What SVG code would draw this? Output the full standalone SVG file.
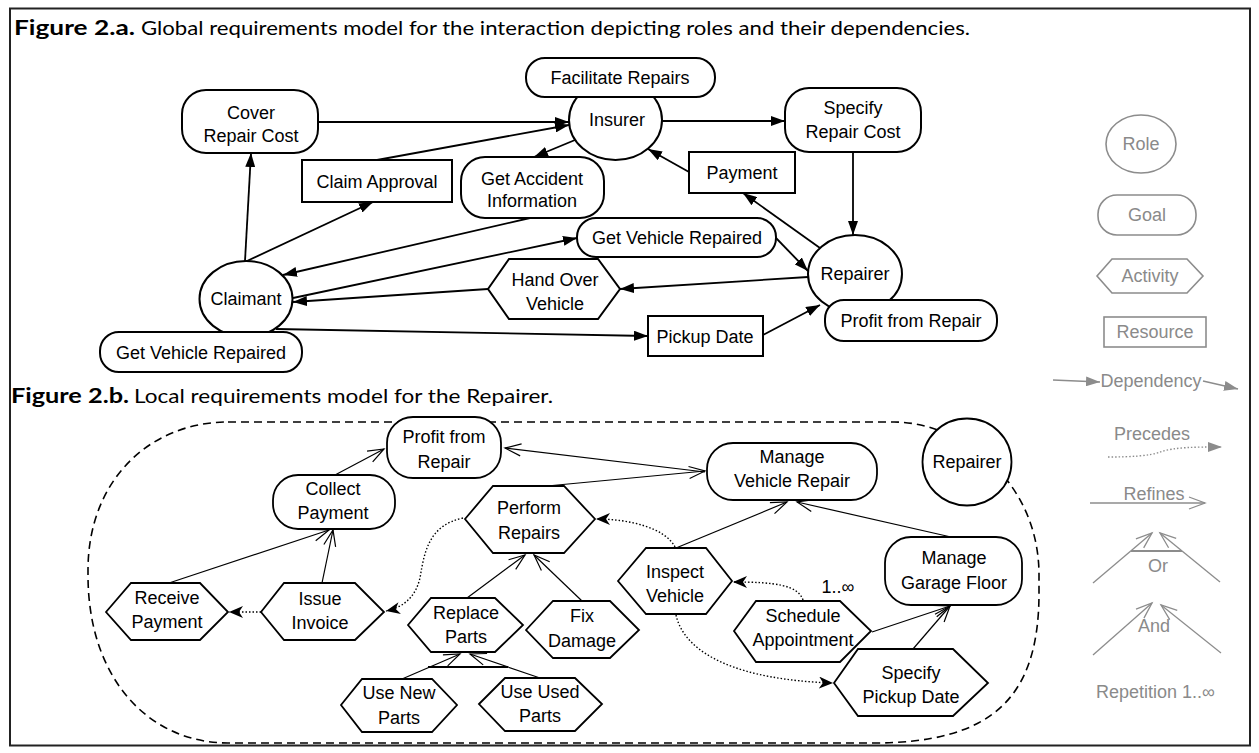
<svg xmlns="http://www.w3.org/2000/svg" width="1259" height="753" viewBox="0 0 1259 753">
<style>
.n{fill:#fff;stroke:#000;stroke-width:2}
.n2{fill:#fff;stroke:#000;stroke-width:1.8}
.t{font-family:"Liberation Sans",Arial,sans-serif;font-size:18px;text-anchor:middle;fill:#000}
.lg{fill:#fff;stroke:#8c8c8c;stroke-width:1.6}
.lt{font-family:"Liberation Sans",Arial,sans-serif;font-size:18px;text-anchor:middle;fill:#8a8a8a}
.c{stroke:#000;stroke-width:1.8;fill:none;marker-end:url(#af)}
.r{stroke:#000;stroke-width:1.2;fill:none;marker-end:url(#ao)}
.p{stroke:#000;stroke-width:1.4;stroke-dasharray:1.5 2;fill:none;marker-end:url(#ap)}
.ttl{font-family:Lato,"Liberation Sans",sans-serif;font-size:20px;fill:#000}
</style>
<defs>
<marker id="af" markerUnits="userSpaceOnUse" markerWidth="14" markerHeight="10" refX="14" refY="5" orient="auto"><path d="M0,0 L14,5 L0,10 Z" fill="#000"/></marker>
<marker id="ao" markerUnits="userSpaceOnUse" markerWidth="18" markerHeight="14" refX="16" refY="7" orient="auto" overflow="visible"><path d="M0,1 L16,7 L0,13" fill="none" stroke="#000" stroke-width="1.2"/></marker>
<marker id="ap" markerUnits="userSpaceOnUse" markerWidth="15" markerHeight="12" refX="14" refY="6" orient="auto"><path d="M0,0 L14,6 L0,12 L4,6 Z" fill="#000"/></marker>
<marker id="agf" markerUnits="userSpaceOnUse" markerWidth="14" markerHeight="10" refX="14" refY="5" orient="auto"><path d="M0,0 L14,5 L0,10 Z" fill="#8c8c8c"/></marker>
<marker id="ago" markerUnits="userSpaceOnUse" markerWidth="18" markerHeight="14" refX="16" refY="7" orient="auto" overflow="visible"><path d="M0,1 L16,7 L0,13" fill="none" stroke="#8c8c8c" stroke-width="1.3"/></marker>
</defs>

<rect x="10" y="8.5" width="1240" height="737" fill="#fff" stroke="#222" stroke-width="2"/>

<text class="ttl" x="14" y="35" font-weight="bold" textLength="121" lengthAdjust="spacingAndGlyphs">Figure 2.a.</text>
<text class="ttl" x="141" y="35" textLength="829" lengthAdjust="spacingAndGlyphs">Global requirements model for the interaction depicting roles and their dependencies.</text>
<text class="ttl" x="11" y="403" font-weight="bold" textLength="118" lengthAdjust="spacingAndGlyphs">Figure 2.b.</text>
<text class="ttl" x="134" y="403" textLength="419" lengthAdjust="spacingAndGlyphs">Local requirements model for the Repairer.</text>

<!-- Figure 2.a nodes -->
<g id="insurer"><ellipse class="n" cx="615.5" cy="120" rx="46.5" ry="40"/><text class="t" x="617" y="126">Insurer</text></g>
<g id="facilitate-repairs"><rect class="n" x="526" y="58" width="189" height="39" rx="19"/><text class="t" x="620" y="84">Facilitate Repairs</text></g>
<g id="cover-repair-cost"><rect class="n" x="182" y="90" width="136" height="63" rx="24"/><text class="t" x="251" y="119">Cover</text><text class="t" x="251" y="142">Repair Cost</text></g>
<g id="specify-repair-cost"><rect class="n" x="785" y="88" width="136" height="64" rx="24"/><text class="t" x="853" y="114">Specify</text><text class="t" x="853" y="138">Repair Cost</text></g>
<g id="payment"><rect class="n" x="689" y="152" width="106" height="41"/><text class="t" x="742" y="179">Payment</text></g>
<g id="claim-approval"><rect class="n" x="302" y="160" width="150" height="42"/><text class="t" x="377" y="188">Claim Approval</text></g>
<g id="get-accident-information"><rect class="n" x="461" y="157" width="143" height="61" rx="24"/><text class="t" x="532" y="185">Get Accident</text><text class="t" x="532" y="207">Information</text></g>
<g id="get-vehicle-repaired-1"><rect class="n" x="577" y="218" width="199" height="39" rx="19"/><text class="t" x="677" y="244">Get Vehicle Repaired</text></g>
<g id="hand-over-vehicle"><polygon class="n" points="488,289 509,259 598,259 620,289 598,319 509,319"/><text class="t" x="555" y="286">Hand Over</text><text class="t" x="555" y="310">Vehicle</text></g>
<g id="claimant"><ellipse class="n" cx="246" cy="299" rx="46.5" ry="38"/><text class="t" x="246" y="305">Claimant</text></g>
<g id="get-vehicle-repaired-2"><rect class="n" x="100" y="332" width="202" height="40" rx="19"/><text class="t" x="201" y="359">Get Vehicle Repaired</text></g>
<g id="repairer-a"><ellipse class="n" cx="855" cy="274" rx="47" ry="39"/><text class="t" x="855" y="280">Repairer</text></g>
<g id="profit-from-repair-a"><rect class="n" x="825" y="300" width="172" height="41" rx="19"/><text class="t" x="911" y="327">Profit from Repair</text></g>
<g id="pickup-date"><rect class="n" x="648" y="316" width="115" height="40"/><text class="t" x="705" y="343">Pickup Date</text></g>

<!-- Figure 2.a connectors -->
<g id="connectors-a">
<line class="c" x1="318" y1="122" x2="569" y2="122"/>
<line class="c" x1="377" y1="160" x2="569" y2="125"/>
<line class="c" x1="575" y1="140" x2="534" y2="157"/>
<line class="c" x1="662" y1="121" x2="785" y2="121"/>
<line class="c" x1="853" y1="152" x2="853" y2="235"/>
<line class="c" x1="689" y1="172" x2="648" y2="149"/>
<line class="c" x1="820" y1="248" x2="743" y2="193"/>
<line class="c" x1="776" y1="238" x2="808" y2="271"/>
<line class="c" x1="808" y1="277" x2="620" y2="289"/>
<line class="c" x1="488" y1="289" x2="293" y2="302"/>
<line class="c" x1="530" y1="218" x2="283" y2="275"/>
<line class="c" x1="293" y1="298" x2="577" y2="238"/>
<line class="c" x1="247" y1="261" x2="373" y2="202"/>
<line class="c" x1="245" y1="261" x2="251" y2="153"/>
<line class="c" x1="276" y1="329" x2="648" y2="336"/>
<line class="c" x1="763" y1="335" x2="820" y2="305"/>
</g>

<!-- Figure 2.b boundary -->
<path id="repairer-boundary" d="M228,422 L894,422 C960,422 1039,480 1039,575 L1039,593 C1039,700 990,743 873,743 L228,743 C150,743 88,680 88,575 L88,570 C88,480 150,422 228,422 Z" fill="none" stroke="#000" stroke-width="1.6" stroke-dasharray="8 5"/>

<!-- Figure 2.b nodes -->
<g id="repairer-b"><ellipse class="n2" cx="967" cy="462" rx="44.5" ry="43.5"/><text class="t" x="967" y="468">Repairer</text></g>
<g id="profit-from-repair-b"><rect class="n2" x="387" y="417" width="114" height="61" rx="26"/><text class="t" x="444" y="443">Profit from</text><text class="t" x="444" y="468">Repair</text></g>
<g id="manage-vehicle-repair"><rect class="n2" x="707" y="443" width="170" height="57" rx="26"/><text class="t" x="792" y="463">Manage</text><text class="t" x="792" y="487">Vehicle Repair</text></g>
<g id="collect-payment"><rect class="n2" x="273" y="475" width="122" height="54" rx="25"/><text class="t" x="333" y="495">Collect</text><text class="t" x="333" y="519">Payment</text></g>
<g id="manage-garage-floor"><rect class="n2" x="885" y="537" width="137" height="68" rx="26"/><text class="t" x="954" y="564">Manage</text><text class="t" x="954" y="589">Garage Floor</text></g>
<g id="perform-repairs"><polygon class="n2" points="465,519 493,486 564,486 595,519 564,553 493,553"/><text class="t" x="529" y="514">Perform</text><text class="t" x="529" y="539">Repairs</text></g>
<g id="inspect-vehicle"><polygon class="n2" points="618,581 646,548 706,548 732,581 706,614 646,614"/><text class="t" x="675" y="578">Inspect</text><text class="t" x="675" y="602">Vehicle</text></g>
<g id="receive-payment"><polygon class="n2" points="106,612 131,583 200,583 228,612 200,640 131,640"/><text class="t" x="167" y="604">Receive</text><text class="t" x="167" y="628">Payment</text></g>
<g id="issue-invoice"><polygon class="n2" points="261,612 284,583 355,583 384,612 355,640 284,640"/><text class="t" x="320" y="605">Issue</text><text class="t" x="320" y="629">Invoice</text></g>
<g id="replace-parts"><polygon class="n2" points="408,625 431,598 495,598 523,625 495,652 431,652"/><text class="t" x="466" y="619">Replace</text><text class="t" x="466" y="643">Parts</text></g>
<g id="fix-damage"><polygon class="n2" points="526,630 553,601 610,601 639,630 610,658 553,658"/><text class="t" x="582" y="622">Fix</text><text class="t" x="582" y="647">Damage</text></g>
<g id="use-new-parts"><polygon class="n2" points="341,705 362,679 432,679 457,705 432,732 362,732"/><text class="t" x="399" y="699">Use New</text><text class="t" x="399" y="724">Parts</text></g>
<g id="use-used-parts"><polygon class="n2" points="479,704 505,678 575,678 602,704 575,731 505,731"/><text class="t" x="540" y="698">Use Used</text><text class="t" x="540" y="722">Parts</text></g>
<g id="schedule-appointment"><polygon class="n2" points="734,631 756,601 840,601 871,631 840,662 756,662"/><text class="t" x="803" y="622">Schedule</text><text class="t" x="803" y="646">Appointment</text></g>
<g id="specify-pickup-date"><polygon class="n2" points="834,683 858,649 953,649 988,683 953,716 858,716"/><text class="t" x="911" y="679">Specify</text><text class="t" x="911" y="703">Pickup Date</text></g>
<text class="t" x="838" y="593" font-size="17">1..∞</text>

<!-- Figure 2.b connectors -->
<g id="connectors-b">
<line class="r" x1="335" y1="475" x2="384" y2="449"/>
<line class="r" x1="705" y1="472" x2="505" y2="448"/>
<line class="r" x1="547" y1="486" x2="705" y2="471"/>
<line class="r" x1="169" y1="583" x2="329" y2="530"/>
<line class="r" x1="322" y1="583" x2="333" y2="530"/>
<line class="r" x1="467" y1="598" x2="525" y2="555"/>
<line class="r" x1="582" y1="601" x2="534" y2="555"/>
<line class="r" x1="676" y1="548" x2="787" y2="502"/>
<line class="r" x1="951" y1="537" x2="797" y2="502"/>
<line class="r" x1="872" y1="632" x2="950" y2="606"/>
<line class="r" x1="913" y1="649" x2="950" y2="606"/>
<line class="r" x1="402" y1="679" x2="460" y2="654"/>
<line class="r" x1="540" y1="678" x2="470" y2="654"/>
<line x1="428" y1="667" x2="508" y2="667" stroke="#000" stroke-width="2.2"/>
<path class="p" d="M463,518 C430,525 425,550 421,572 C418,595 405,607 386,611"/>
<line class="p" x1="261" y1="612" x2="229" y2="612"/>
<path class="p" d="M675,547 C665,528 630,519 596,519"/>
<path class="p" d="M803,600 C798,585 775,582 733,582"/>
<path class="p" d="M676,615 C685,655 740,680 833,683"/>
</g>

<!-- Legend -->
<g id="legend-role"><ellipse class="lg" cx="1141" cy="144" rx="35" ry="29"/><text class="lt" x="1141" y="150">Role</text></g>
<g id="legend-goal"><rect class="lg" x="1098" y="195" width="98" height="40" rx="19"/><text class="lt" x="1147" y="221">Goal</text></g>
<g id="legend-activity"><polygon class="lg" points="1097,276 1112,259 1187,259 1203,276 1187,293 1112,293"/><text class="lt" x="1150" y="282">Activity</text></g>
<g id="legend-resource"><rect class="lg" x="1104" y="317" width="102" height="30"/><text class="lt" x="1155" y="338">Resource</text></g>
<g id="legend-dependency">
<line x1="1053" y1="380" x2="1100" y2="382" stroke="#8c8c8c" stroke-width="1.6" marker-end="url(#agf)"/>
<text class="lt" x="1151" y="387">Dependency</text>
<line x1="1203" y1="381" x2="1238" y2="389" stroke="#8c8c8c" stroke-width="1.6" marker-end="url(#agf)"/>
</g>
<g id="legend-precedes">
<text class="lt" x="1152" y="440">Precedes</text>
<path d="M1108,457 C1130,457 1150,456 1160,452 C1175,447 1195,447 1222,447" fill="none" stroke="#8c8c8c" stroke-width="1.4" stroke-dasharray="1.5 2" marker-end="url(#agf)"/>
</g>
<g id="legend-refines">
<text class="lt" x="1154" y="500">Refines</text>
<line x1="1090" y1="503" x2="1205" y2="503" stroke="#8c8c8c" stroke-width="1.4" marker-end="url(#ago)"/>
</g>
<g id="legend-or">
<line x1="1093" y1="583" x2="1152" y2="533" stroke="#8c8c8c" stroke-width="1.3" marker-end="url(#ago)"/>
<line x1="1220" y1="582" x2="1160" y2="533" stroke="#8c8c8c" stroke-width="1.3" marker-end="url(#ago)"/>
<line x1="1131" y1="551" x2="1182" y2="551" stroke="#8c8c8c" stroke-width="2"/>
<text class="lt" x="1158" y="572">Or</text>
</g>
<g id="legend-and">
<line x1="1093" y1="655" x2="1152" y2="603" stroke="#8c8c8c" stroke-width="1.3" marker-end="url(#ago)"/>
<line x1="1221" y1="653" x2="1161" y2="605" stroke="#8c8c8c" stroke-width="1.3" marker-end="url(#ago)"/>
<text class="lt" x="1154" y="632">And</text>
</g>
<g id="legend-repetition"><text class="lt" x="1096" y="698" style="text-anchor:start">Repetition  1..∞</text></g>
</svg>
